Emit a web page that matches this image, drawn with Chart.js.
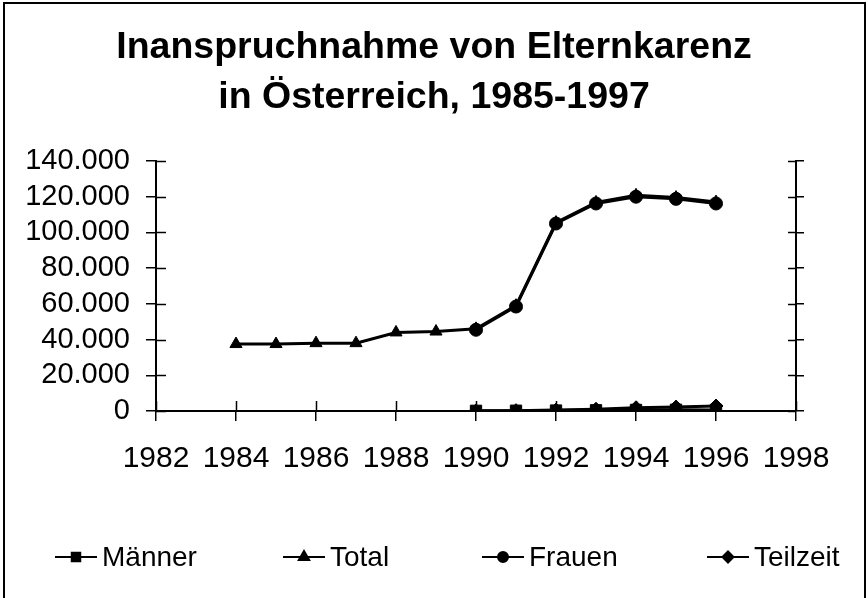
<!DOCTYPE html>
<html><head><meta charset="utf-8">
<script src="https://cdn.jsdelivr.net/npm/chart.js@4"></script>
<style>html,body{margin:0;padding:0;background:#fff}#wrap{position:relative;width:868px;height:598px}</style>
</head><body><div id="wrap"><canvas id="c" width="868" height="598"></canvas></div>
<script>
// ---- data ----
const titleLines = ['Inanspruchnahme von Elternkarenz', 'in Österreich, 1985-1997'];
const seriesNames = ['Männer', 'Total', 'Frauen', 'Teilzeit'];
const totalYears = [1984, 1985, 1986, 1987, 1988, 1989, 1990, 1991, 1992, 1993, 1994, 1995, 1996];
const totalValues = [37500, 37500, 38000, 38000, 44000, 44500, 46000, 59000, 105500, 116800, 120800, 119500, 117000];
const recentYears = [1990, 1991, 1992, 1993, 1994, 1995, 1996];
const maennerValues = [100, 150, 250, 400, 600, 700, 600];
const frauenValues = [45500, 58500, 105000, 116200, 120000, 118800, 116200];
const teilzeitValues = [50, 200, 500, 1000, 1800, 2200, 2800];
const xTicks = [1982, 1984, 1986, 1988, 1990, 1992, 1994, 1996, 1998];
const yTicks = [0, 20000, 40000, 60000, 80000, 100000, 120000, 140000];

// ---- styling ----
const NARROW = "'Liberation Sans Narrow', 'Arial Narrow', 'Liberation Sans', Arial, sans-serif";
const BOLD = "'Liberation Sans', Arial, Helvetica, sans-serif";
const pts = (xs, ys) => xs.map((x, i) => ({x: x, y: ys[i]}));
const fmtDE = v => String(v).replace(/\B(?=(\d{3})+(?!\d))/g, '.');

const markerStyles = ['rect', 'triangle', 'circle', 'rectRot'];
const markerRadius = [8, 7, 6.5, 7];
const legendRadius = [6, 6, 5, 5.5];

function ds(i, data) {
  return {
    label: seriesNames[i], data: data,
    borderColor: '#000', backgroundColor: '#000', borderWidth: 3,
    pointStyle: markerStyles[i], pointRadius: markerRadius[i], pointHoverRadius: markerRadius[i],
    pointBackgroundColor: '#000', pointBorderColor: '#000', pointBorderWidth: 1,
    tension: 0, fill: false
  };
}

const crossTicks = {
  id: 'crossTicks',
  afterDatasetsDraw(chart) {
    const ctx = chart.ctx, ca = chart.chartArea;
    ctx.save();
    ctx.strokeStyle = '#000';
    ctx.lineWidth = 1.5;
    const xs = chart.scales.x, ys = chart.scales.y, y2 = chart.scales.y2;
    xs.ticks.forEach(t => { const p = Math.round(xs.getPixelForValue(t.value)) + 0.5; ctx.beginPath(); ctx.moveTo(p, ca.bottom); ctx.lineTo(p, ca.bottom - 10); ctx.stroke(); });
    ys.ticks.forEach(t => { const p = Math.round(ys.getPixelForValue(t.value)) + 0.5; ctx.beginPath(); ctx.moveTo(ca.left, p); ctx.lineTo(ca.left + 10, p); ctx.stroke(); });
    y2.ticks.forEach(t => { const p = Math.round(y2.getPixelForValue(t.value)) + 0.5; ctx.beginPath(); ctx.moveTo(ca.right, p); ctx.lineTo(ca.right - 8, p); ctx.stroke(); });
    ctx.restore();
  }
};

const legendPlugin = {
  id: 'lineLegend',
  afterDraw(chart, args, opts) {
    const ctx = chart.ctx;
    ctx.save();
    ctx.font = opts.font;
    ctx.fillStyle = '#000';
    ctx.strokeStyle = '#000';
    ctx.textBaseline = 'middle';
    ctx.textAlign = 'left';
    chart.data.datasets.forEach((d, i) => {
      const x0 = opts.starts[i], y = opts.y, L = opts.lineLen;
      ctx.lineWidth = 2;
      ctx.beginPath(); ctx.moveTo(x0, y); ctx.lineTo(x0 + L, y); ctx.stroke();
      Chart.helpers.drawPoint(ctx, {pointStyle: d.pointStyle, radius: legendRadius[i], borderWidth: 1}, x0 + L / 2, y);
      ctx.fill();
      ctx.fillText(d.label, x0 + L + 5, y + 1);
    });
    ctx.restore();
  }
};

const framePlugin = {
  id: 'frame',
  afterDraw(chart) {
    const ctx = chart.ctx;
    ctx.save();
    ctx.strokeStyle = '#000';
    ctx.lineWidth = 2;
    ctx.beginPath();
    ctx.moveTo(4, 598); ctx.lineTo(4, 3); ctx.lineTo(865, 3); ctx.lineTo(865, 598);
    ctx.stroke();
    ctx.restore();
  }
};

new Chart(document.getElementById('c'), {
  type: 'line',
  data: {
    datasets: [
      ds(0, pts(recentYears, maennerValues)),
      ds(1, pts(totalYears, totalValues)),
      ds(2, pts(recentYears, frauenValues)),
      ds(3, pts(recentYears, teilzeitValues))
    ]
  },
  options: {
    responsive: false, animation: false, devicePixelRatio: 1,
    layout: {padding: {left: 0, right: 0, top: 0, bottom: 107}},
    plugins: {
      legend: {display: false},
      tooltip: {enabled: false},
      title: {
        display: true, text: titleLines, color: '#000',
        font: {family: BOLD, size: 37.5, weight: 'bold', lineHeight: 1.32},
        padding: {top: 23, bottom: 39}
      },
      lineLegend: {starts: [55, 283, 482, 707], y: 557, lineLen: 42, font: "28px " + NARROW}
    },
    scales: {
      x: {
        type: 'linear', min: 1982, max: 1998,
        afterBuildTicks: s => { s.ticks = xTicks.map(v => ({value: v})); },
        afterFit: s => { s.height = 80; },
        ticks: {color: '#000', font: {family: NARROW, size: 30}, padding: 20, callback: v => String(v), maxRotation: 0, autoSkip: false},
        grid: {drawOnChartArea: false, drawTicks: true, tickLength: 10, color: '#000', lineWidth: 1.5},
        border: {display: true, color: '#000', width: 2}
      },
      y: {
        type: 'linear', position: 'left', min: 0, max: 140000,
        afterBuildTicks: s => { s.ticks = yTicks.map(v => ({value: v})); },
        afterFit: s => { s.width = 156; },
        ticks: {color: '#000', font: {family: NARROW, size: 29}, padding: 16, autoSkip: false, callback: v => fmtDE(v)},
        grid: {drawOnChartArea: false, drawTicks: true, tickLength: 10, color: '#000', lineWidth: 1.5},
        border: {display: true, color: '#000', width: 2}
      },
      y2: {
        type: 'linear', position: 'right', min: 0, max: 140000,
        afterBuildTicks: s => { s.ticks = yTicks.map(v => ({value: v})); },
        afterFit: s => { s.width = 72; },
        ticks: {display: false, autoSkip: false},
        grid: {drawOnChartArea: false, drawTicks: true, tickLength: 8, color: '#000', lineWidth: 1.5},
        border: {display: true, color: '#000', width: 2}
      }
    }
  },
  plugins: [crossTicks, legendPlugin, framePlugin]
});
</script>
</body></html>
